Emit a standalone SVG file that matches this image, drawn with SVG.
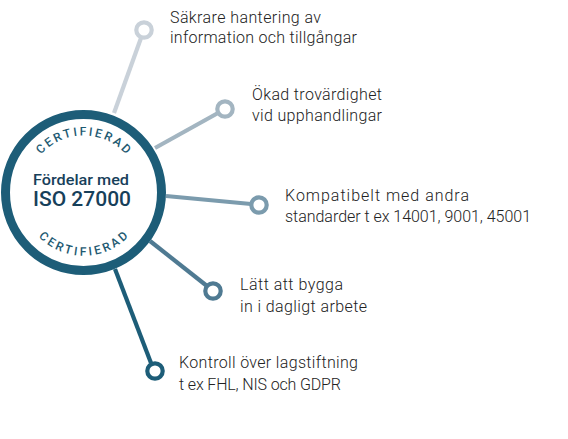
<svg xmlns="http://www.w3.org/2000/svg" width="568" height="439" viewBox="0 0 568 439">
<style>
.t{font-family:"Roboto","Liberation Sans",sans-serif;font-weight:300;font-size:16px;fill:#222}
.c{font-family:"Roboto","Liberation Sans",sans-serif;font-weight:500;font-size:12px;fill:#1e5a72;text-anchor:middle}
.h{font-family:"Roboto","Liberation Sans",sans-serif;fill:#17405a;text-anchor:middle}
.e{fill:#fff;stroke-width:4.2}
.l{fill:none;stroke-width:4.2}
</style>
<defs>
<path id="arcTop" d="M43.200 152.200A57 57 0 0 1 123.800 152.200"/>
<path id="arcBot" d="M35.500 233.500A63 63 0 0 0 131.500 233.500"/>
</defs>
<g id="connectors">
<line class="l" x1="114" y1="113" x2="141" y2="38" stroke="#c9d1d9"/>
<line class="l" x1="155" y1="148" x2="218" y2="113" stroke="#a3b5c1"/>
<line class="l" x1="166" y1="196" x2="251" y2="204" stroke="#7b9bad"/>
<line class="l" x1="150" y1="241" x2="207" y2="286" stroke="#4f7a92"/>
<line class="l" x1="115" y1="269" x2="151" y2="363" stroke="#1d5d78"/>
</g>
<g id="hub">
<circle cx="83.500" cy="192.500" r="78" fill="#fff" stroke="#1d5d78" stroke-width="9"/>
<text class="c"><textPath href="#arcTop" startOffset="50%" textLength="96" lengthAdjust="spacing">CERTIFIERAD</textPath></text>
<text class="c"><textPath href="#arcBot" startOffset="50%" textLength="100" lengthAdjust="spacing">CERTIFIERAD</textPath></text>
<text class="h" x="81" y="185" font-size="15" font-weight="500" textLength="96" lengthAdjust="spacingAndGlyphs">Fördelar med</text>
<text class="h" x="82" y="206" font-size="20" font-weight="500" textLength="98" lengthAdjust="spacingAndGlyphs">ISO 27000</text>
</g>
<g id="n1"><circle class="e" cx="144" cy="30" r="7.700" stroke="#c9d1d9"/>
<text class="t" x="170" y="23" textLength="151">Säkrare hantering av</text>
<text class="t" x="170" y="43" textLength="187">information och tillgångar</text></g>
<g id="n2"><circle class="e" cx="225" cy="109" r="7.700" stroke="#a3b5c1"/>
<text class="t" x="252" y="100" textLength="130">Ökad trovärdighet</text>
<text class="t" x="252" y="121" textLength="130">vid upphandlingar</text></g>
<g id="n3"><circle class="e" cx="259" cy="205" r="7.700" stroke="#7b9bad"/>
<text class="t" x="285" y="201" textLength="184">Kompatibelt med andra</text>
<text class="t" x="285" y="222" textLength="246">standarder t ex 14001, 9001, 45001</text></g>
<g id="n4"><circle class="e" cx="213" cy="291" r="7.700" stroke="#4f7a92"/>
<text class="t" x="240" y="290" textLength="103">Lätt att bygga</text>
<text class="t" x="240" y="312" textLength="127">in i dagligt arbete</text></g>
<g id="n5"><circle class="e" cx="155" cy="371" r="7.700" stroke="#1d5d78"/>
<text class="t" x="179" y="368" textLength="179">Kontroll över lagstiftning</text>
<text class="t" x="179" y="390" textLength="162">t ex FHL, NIS och GDPR</text></g>
</svg>
